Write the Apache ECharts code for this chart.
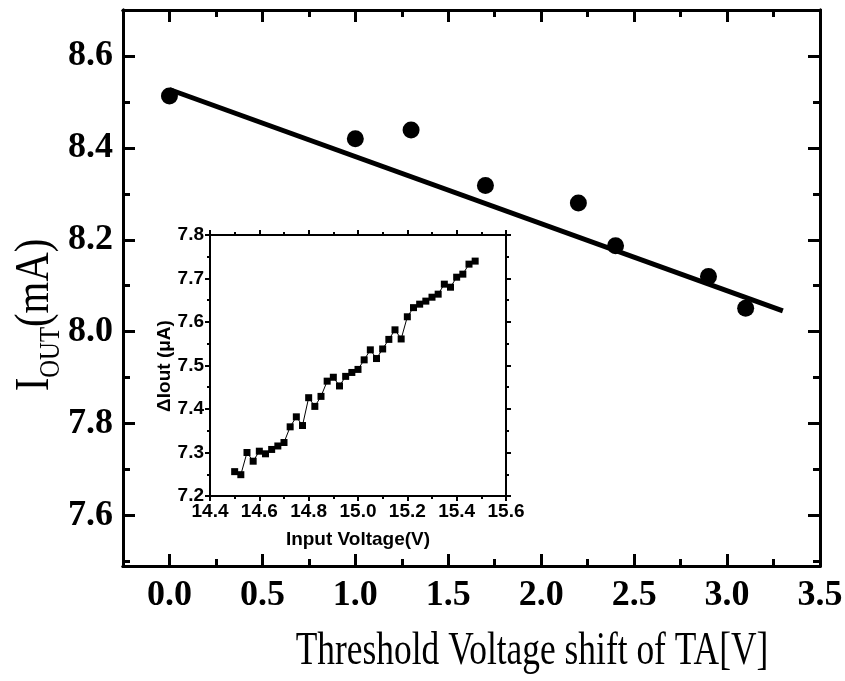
<!DOCTYPE html>
<html>
<head>
<meta charset="utf-8">
<script src="https://cdn.jsdelivr.net/npm/echarts@6/dist/echarts.min.js"></script>
<style>html,body{margin:0;padding:0;background:#fff}#c{width:845px;height:681px}</style>
</head>
<body>
<div id="c"></div>
<script>
// Main plot data
const thresholdShift = [0.0, 1.0, 1.3, 1.7, 2.2, 2.4, 2.9, 3.1];
const ioutValues = [8.513, 8.420, 8.439, 8.318, 8.280, 8.187, 8.120, 8.051];
const fitLineX = [0.0, 3.3];
const fitLineY = [8.527, 8.045];

// Inset data
const inputVoltage = [14.500, 14.525, 14.550, 14.575, 14.600, 14.625, 14.650, 14.675, 14.700, 14.725,
  14.750, 14.775, 14.800, 14.825, 14.850, 14.875, 14.900, 14.925, 14.950, 14.975,
  15.000, 15.025, 15.050, 15.075, 15.100, 15.125, 15.150, 15.175, 15.200, 15.225,
  15.250, 15.275, 15.300, 15.325, 15.350, 15.375, 15.400, 15.425, 15.450, 15.475];
const deltaIout = [7.256, 7.249, 7.300, 7.280, 7.303, 7.297, 7.307, 7.315, 7.323, 7.359,
  7.382, 7.362, 7.426, 7.406, 7.429, 7.464, 7.473, 7.453, 7.475, 7.484,
  7.491, 7.513, 7.536, 7.516, 7.538, 7.560, 7.582, 7.561, 7.612, 7.633,
  7.641, 7.648, 7.657, 7.664, 7.687, 7.680, 7.703, 7.710, 7.733, 7.740];

// Tick values
const mainXTicks = [0.0, 0.5, 1.0, 1.5, 2.0, 2.5, 3.0, 3.5];
const mainXMinor = [0.25, 0.75, 1.25, 1.75, 2.25, 2.75, 3.25];
const mainYTicks = [7.6, 7.8, 8.0, 8.2, 8.4, 8.6];
const mainYMinor = [7.5, 7.7, 7.9, 8.1, 8.3, 8.5];

const zip = (a, b) => a.map((v, i) => [v, b[i]]);

const serifBold = {fontFamily: '"Liberation Serif", "Times New Roman", serif', fontWeight: 'bold', fontSize: 36, color: '#000'};
const sansBold = {fontFamily: '"Liberation Sans", Arial, sans-serif', fontWeight: 'bold', fontSize: 19, color: '#000'};

const MX = {min: -0.25, max: 3.5};
const MY = {min: 7.49, max: 8.70};

function mainAxis(kind, pos, ticks, len, labels) {
  return Object.assign({
    type: 'value', gridIndex: 0, position: pos,
    splitLine: {show: false},
    axisLine: {show: true, onZero: false, lineStyle: {color: '#000', width: 3}},
    axisTick: {show: true, inside: true, length: len, customValues: ticks, lineStyle: {color: '#000', width: 3}},
    axisLabel: labels ? Object.assign({show: true, customValues: ticks, margin: kind === 'x' ? 12 : 10, formatter: v => v.toFixed(1)}, serifBold) : {show: false}
  }, kind === 'x' ? MX : MY);
}

function insetAxis(kind, pos, labels) {
  const base = kind === 'x' ? {min: 14.4, max: 15.6, interval: 0.2} : {min: 7.2, max: 7.8, interval: 0.1};
  return Object.assign({
    type: 'value', gridIndex: 1, position: pos, z: 6,
    splitLine: {show: false},
    axisLine: {show: true, onZero: false, lineStyle: {color: '#000', width: 2}},
    axisTick: {show: true, inside: false, length: 5, lineStyle: {color: '#000', width: 2}},
    minorTick: {show: true, splitNumber: 2, length: 3, lineStyle: {color: '#000', width: 2}},
    axisLabel: labels ? Object.assign({show: true, margin: kind === 'x' ? 6 : 6, formatter: v => v.toFixed(1)}, sansBold) : {show: false}
  }, base);
}

const chart = echarts.init(document.getElementById('c'), null, {renderer: 'canvas'});
chart.setOption({
  backgroundColor: '#fff',
  animation: false,
  grid: [
    {left: 123, top: 10, right: 25, bottom: 115, outerBoundsMode: 'none', containLabel: false},
    {left: 210, top: 235, width: 296, height: 261, show: true, backgroundColor: '#fff', borderWidth: 0, z: 3, outerBoundsMode: 'none', containLabel: false}
  ],
  xAxis: [
    mainAxis('x', 'bottom', mainXTicks, 12, true),
    mainAxis('x', 'top', mainXTicks, 12, false),
    mainAxis('x', 'bottom', mainXMinor, 7, false),
    mainAxis('x', 'top', mainXMinor, 7, false),
    insetAxis('x', 'bottom', true),
    insetAxis('x', 'top', false)
  ],
  yAxis: [
    mainAxis('y', 'left', mainYTicks, 12, true),
    mainAxis('y', 'right', mainYTicks, 12, false),
    mainAxis('y', 'left', mainYMinor, 7, false),
    mainAxis('y', 'right', mainYMinor, 7, false),
    insetAxis('y', 'left', true),
    insetAxis('y', 'right', false)
  ],
  series: [
    {type: 'line', xAxisIndex: 0, yAxisIndex: 0, data: zip(fitLineX, fitLineY), symbol: 'none',
     lineStyle: {color: '#000', width: 5}, z: 2},
    {type: 'scatter', xAxisIndex: 0, yAxisIndex: 0, data: zip(thresholdShift, ioutValues), symbol: 'circle',
     symbolSize: 17, itemStyle: {color: '#000', opacity: 1}, z: 2},
    {type: 'line', xAxisIndex: 4, yAxisIndex: 4, data: zip(inputVoltage, deltaIout), symbol: 'rect',
     symbolSize: 7, showSymbol: true, lineStyle: {color: '#000', width: 1}, itemStyle: {color: '#000', opacity: 1}, z: 5}
  ],
  graphic: [
    {type: 'text', x: 532, y: 652, scaleX: 0.77, z: 10,
     style: {text: 'Threshold Voltage shift of TA[V]', fill: '#000', font: '46px "Liberation Serif", "Times New Roman", serif',
             textAlign: 'center', textVerticalAlign: 'middle'}},
    {type: 'text', x: 35, y: 315, rotation: Math.PI / 2, scaleX: 0.85, z: 10,
     style: {text: '{a|I}{b|OUT}{a|(mA)}', fill: '#000', textAlign: 'center', textVerticalAlign: 'middle',
             rich: {
               a: {fontFamily: '"Liberation Serif", "Times New Roman", serif', fontSize: 48, lineHeight: 62, verticalAlign: 'middle', fill: '#000'},
               b: {fontFamily: '"Liberation Serif", "Times New Roman", serif', fontSize: 29, lineHeight: 29, verticalAlign: 'bottom', fill: '#000'}
             }}},
    {type: 'text', x: 358, y: 540, z: 10,
     style: {text: 'Input Voltage(V)', fill: '#000', font: 'bold 19px "Liberation Sans", Arial, sans-serif',
             textAlign: 'center', textVerticalAlign: 'middle'}},
    {type: 'text', x: 165, y: 366, rotation: Math.PI / 2, z: 10,
     style: {text: 'ΔIout (μA)', fill: '#000', font: 'bold 19px "Liberation Sans", Arial, sans-serif',
             textAlign: 'center', textVerticalAlign: 'middle'}}
  ]
});
</script>
</body>
</html>
